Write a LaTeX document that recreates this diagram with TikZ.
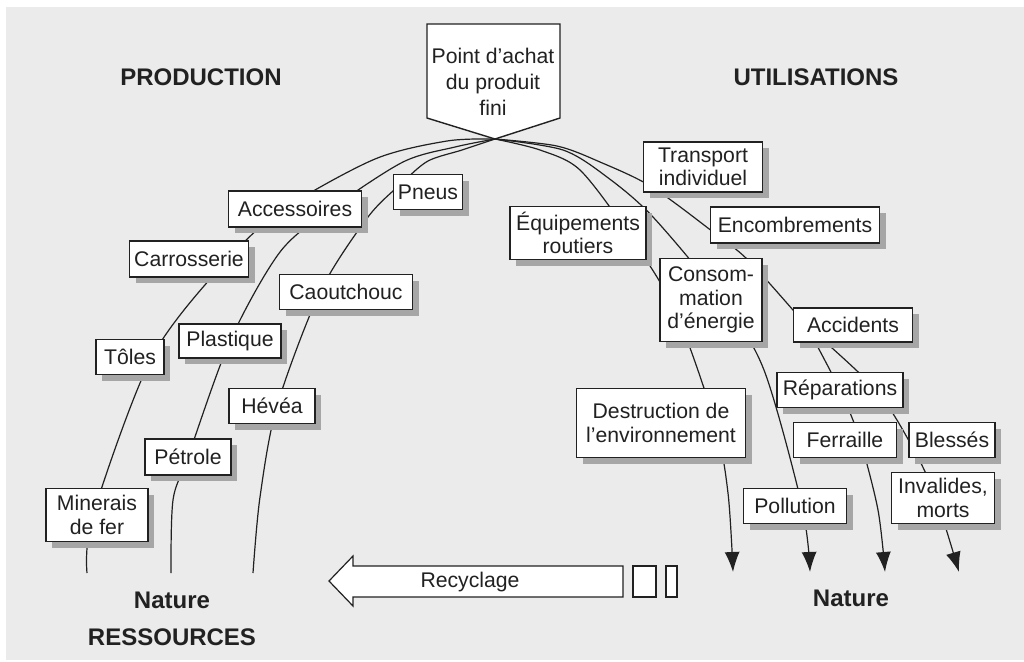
\documentclass[tikz,border=0pt]{standalone}
\usepackage{fontspec}
\setmainfont{Liberation Sans}
\usetikzlibrary{calc}
\usetikzlibrary{shadows}
\usetikzlibrary{arrows.meta}

\pgfdeclarelayer{fond}
\pgfdeclarelayer{traits}
\pgfsetlayers{fond,traits,main}

\definecolor{fondgris}{gray}{0.92}
\definecolor{ombre}{gray}{0.65}
\definecolor{encre}{gray}{0.13}

\tikzset{
  etiq/.style={draw=encre, fill=white, line width=0.7pt, inner xsep=2pt, inner ysep=2pt,
    align=center, text=encre, font={\fontsize{10.6}{11.8}\selectfont},
    drop shadow={shadow xshift=3pt, shadow yshift=-3pt, fill=ombre, opacity=1}},
  boxsz/.style 2 args={minimum width=#1*0.5pt, minimum height=#2*0.5pt},
  titre/.style={text=encre, font={\bfseries\fontsize{12}{13}\selectfont}},
  trait/.style={draw=encre, line width=0.6pt},
  fleche/.style={trait, -{Latex[length=10pt, width=7.5pt]}},
}

\begin{document}
\begin{tikzpicture}[x=0.5pt, y=-0.5pt]
  \useasboundingbox (0,0) rectangle (1024,661);
  \begin{pgfonlayer}{fond}
    \fill[fondgris] (6,7) rectangle (1024,660);
  \end{pgfonlayer}

%%%%%%%%%%%% Point d'achat
  \coordinate (apex) at (495,139);
  \draw[encre, line width=0.7pt, fill=white]
    (427,24) -- (560,24) -- (560,118) -- (apex) -- (427,118) -- cycle;
  \node[align=center, text=encre, font={\fontsize{10.6}{13}\selectfont}] (achat) at (493,82)
    {Point d’achat\\du produit\\fini};

  \node[titre] (prod) at (201,77) {PRODUCTION};
  \node[titre] (util) at (816,77) {UTILISATIONS};

%%%%%%%%%%%% Production
  \node[etiq, boxsz={133}{36}] (acc) at (295,209) {Accessoires};
  \node[etiq, boxsz={119}{36}] (carr) at (189,259) {Carrosserie};
  \node[etiq, boxsz={68}{35}] (toles) at (130,357) {Tôles};
  \node[etiq, boxsz={102}{53}] (minerai) at (97,515) {Minerais\\de fer};
  \node[etiq, boxsz={102}{34}] (plast) at (230,341) {Plastique};
  \node[etiq, boxsz={86}{36}] (petrole) at (188,457) {Pétrole};
  \node[etiq, boxsz={69}{35}] (pneus) at (428,192) {Pneus};
  \node[etiq, boxsz={133}{35}] (caout) at (346,292) {Caoutchouc};
  \node[etiq, boxsz={86}{35}] (hevea) at (272,406) {Hévéa};

%%%%%%%%%%%% Utilisations
  \node[etiq, boxsz={119}{50}] (transp) at (703,167) {Transport\\individuel};
  \node[etiq, boxsz={169}{36}] (encomb) at (795,225) {Encombrements};
  \node[etiq, boxsz={136}{53}] (equip) at (578,233) {Équipements\\routiers};
  \node[etiq, boxsz={102}{83}] (conso) at (711,300) {Consom-\\mation\\d’énergie};
  \node[etiq, boxsz={119}{34}] (accid) at (853,325) {Accidents};
  \node[etiq, boxsz={126}{35}] (repar) at (840,390) {Réparations};
  \node[etiq, boxsz={103}{35}] (ferr) at (845,440) {Ferraille};
  \node[etiq, boxsz={86}{35}] (bless) at (952,440) {Blessés};
  \node[etiq, boxsz={169}{69}] (destr) at (661,423) {Destruction de\\l’environnement};
  \node[etiq, boxsz={103}{35}] (pollu) at (795,506) {Pollution};
  \node[etiq, boxsz={103}{51}] (inval) at (943,498) {Invalides,\\morts};

%%%%%%%%%%%% Recyclage
  \draw[encre, line width=0.6pt, fill=white]
    (623,566) -- (353,566) -- (353,556) -- (329,581) -- (353,606) -- (353,597) -- (623,597) -- cycle;
  \node[text=encre, font={\fontsize{10.6}{11.8}\selectfont}] (recyc) at (470,582) {Recyclage};
  \draw[encre, line width=0.6pt, fill=white] (633,566) rectangle (656,597);
  \draw[encre, line width=0.6pt, fill=white] (666,566) rectangle (677,597);

  \node[titre] (natG) at (172,600) {Nature};
  \node[titre] (ress) at (172,637) {RESSOURCES};
  \node[titre] (natD) at (851,598) {Nature};

  % free ends
  \coordinate (finFer) at (87,573);
  \coordinate (finPet) at (171,573);
  \coordinate (finHev) at (253,573);
  \coordinate (finA) at (733,572);
  \coordinate (finB) at (810,572);
  \coordinate (finC) at (885,572);
  \coordinate (finD) at (959,572);
  \coordinate (split) at ($(accid)+(-47,0)$);

  \begin{pgfonlayer}{traits}
    % production
    \draw[trait] plot[smooth] coordinates {(apex) (447,141) (375,159) ($(acc)+(-11,0)$)
      ($(carr)+(39,0)$) ($(toles)+(22,0)$) ($(minerai)+(-4,0)$) (finFer)};
    \draw[trait] plot[smooth] coordinates {(apex) (455,147) (403,162) ($(acc)+(36,0)$)
      (280,252) (plast.center) (petrole.center) (173,500) (finPet)};
    \draw[trait] plot[smooth] coordinates {(apex) (462,150) (428,161) ($(pneus)+(-26,-9)$)
      (368,217) ($(caout)+(-26,0)$) ($(hevea)+(5,0)$) (260,497) (finHev)};
    % utilisations
    \draw[fleche] plot[smooth] coordinates {(apex) (540,150) (580,170) ($(equip)+(50,0)$)
      ($(conso)+(-36,10)$) ($(destr)+(54,0)$) (728,493) (finA)};
    \draw[fleche] plot[smooth] coordinates {(apex) (563,150) (607,177) (653,217)
      ($(conso)+(11,0)$) (764,370) ($(pollu)+(7,0)$) (finB)};
    \draw[trait] plot[smooth] coordinates {(apex) (557,146) (600,162) ($(transp)+(-51,20)$)
      ($(encomb)+(-78,10)$) (750,262) (split)};
    \draw[fleche] plot[smooth] coordinates {(split) (repar.center) ($(ferr)+(15,0)$)
      (878,510) (finC)};
    \draw[fleche] plot[smooth] coordinates {(split) ($(repar)+(36,0)$) ($(bless)+(-38,10)$)
      ($(inval)+(-7,0)$) (finD)};
  \end{pgfonlayer}
\end{tikzpicture}
\end{document}
